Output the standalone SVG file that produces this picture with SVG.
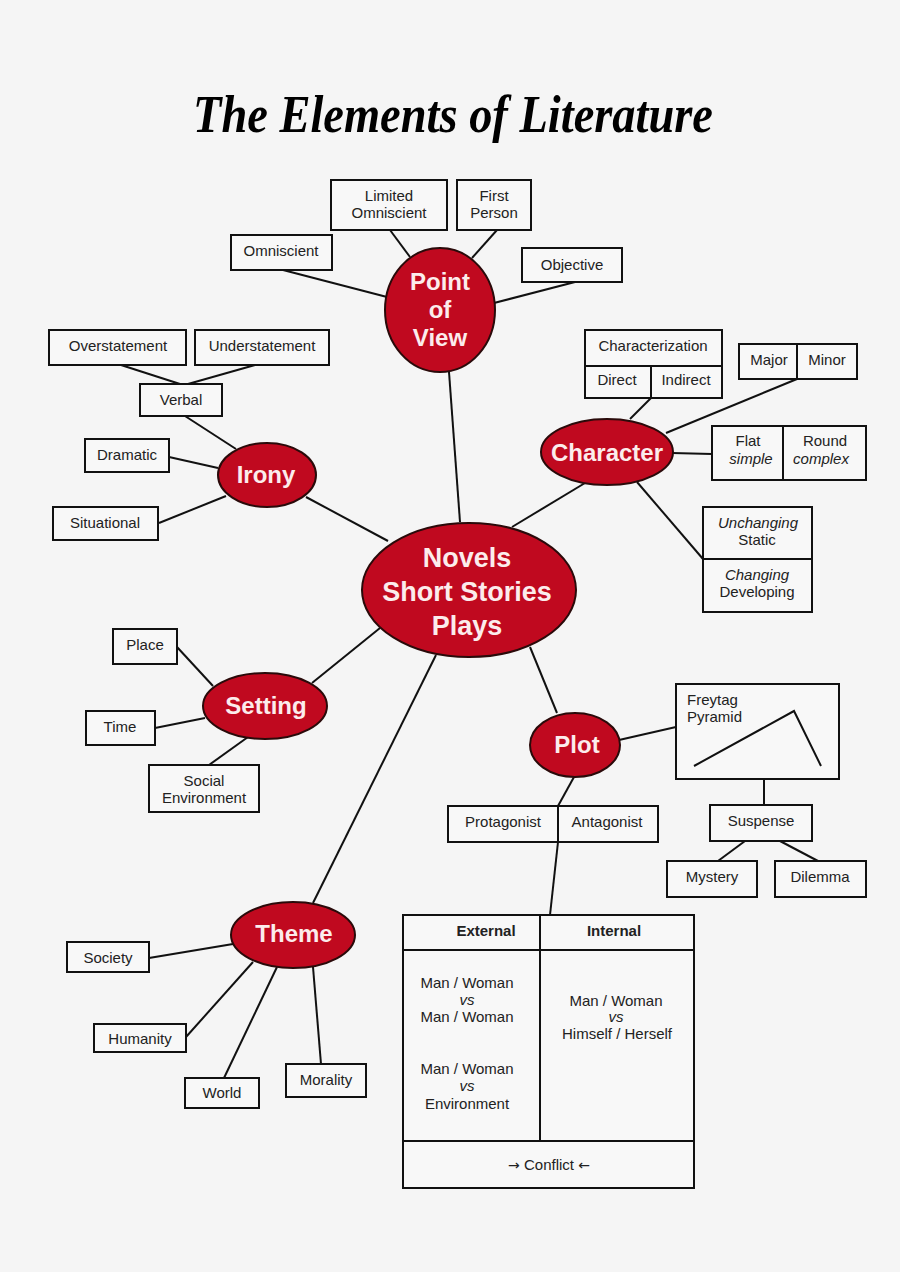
<svg xmlns="http://www.w3.org/2000/svg" width="900" height="1272" viewBox="0 0 900 1272">
<style>
.bg{fill:#f5f5f5}
.box{fill:#f8f8f8;stroke:#111;stroke-width:2}
.div{stroke:#111;stroke-width:2;fill:none}
.ell{fill:#c0091f;stroke:#2a0a0a;stroke-width:2}
.t{font-family:"Liberation Sans",Arial,sans-serif;font-size:15px;fill:#222;text-anchor:middle}
.i{font-style:italic}
.b{font-weight:bold}
.et{font-family:"Liberation Sans",Arial,sans-serif;font-size:24px;font-weight:bold;fill:#fcecec;text-anchor:middle}
.ct{font-size:27px}
.ar{font-family:"DejaVu Sans",sans-serif;font-size:14px}
.conn line,.conn polyline{stroke:#111;stroke-width:2;fill:none}
</style>
<rect class="bg" x="0" y="0" width="900" height="1272"/>
<text x="453" y="132" font-family="Liberation Serif,serif" font-style="italic" font-weight="bold" font-size="52" fill="#000" text-anchor="middle" textLength="520" lengthAdjust="spacingAndGlyphs">The Elements of Literature</text>

<g id="connectors" class="conn">
<line x1="390" y1="230" x2="410" y2="257"/>
<line x1="497" y1="230" x2="472" y2="258"/>
<line x1="283" y1="270" x2="387" y2="297"/>
<line x1="575" y1="282" x2="494" y2="303"/>
<line x1="449" y1="372" x2="460" y2="522"/>
<line x1="121" y1="365" x2="180" y2="384"/>
<line x1="255" y1="365" x2="188" y2="384"/>
<line x1="185" y1="416" x2="236" y2="449"/>
<line x1="169" y1="457" x2="218" y2="468"/>
<line x1="159" y1="523" x2="226" y2="496"/>
<line x1="306" y1="497" x2="388" y2="541"/>
<line x1="651" y1="398" x2="630" y2="419"/>
<line x1="797" y1="379" x2="666" y2="433"/>
<line x1="672" y1="453" x2="712" y2="454"/>
<line x1="637" y1="482" x2="703" y2="559"/>
<line x1="585" y1="483" x2="512" y2="527"/>
<line x1="177" y1="647" x2="213" y2="686"/>
<line x1="155" y1="728" x2="205" y2="718"/>
<line x1="209" y1="765" x2="248" y2="737"/>
<line x1="312" y1="683" x2="380" y2="628"/>
<line x1="530" y1="647" x2="557" y2="713"/>
<line x1="619" y1="740" x2="676" y2="727"/>
<line x1="574" y1="777" x2="558" y2="806"/>
<line x1="558" y1="842" x2="550" y2="915"/>
<line x1="764" y1="779" x2="764" y2="805"/>
<line x1="745" y1="841" x2="718" y2="861"/>
<line x1="780" y1="841" x2="818" y2="861"/>
<line x1="313" y1="903" x2="436" y2="655"/>
<line x1="149" y1="958" x2="233" y2="944"/>
<line x1="186" y1="1037" x2="253" y2="962"/>
<line x1="224" y1="1078" x2="277" y2="967"/>
<line x1="321" y1="1064" x2="313" y2="967"/>
</g>

<g id="center">
<ellipse class="ell" cx="469" cy="590" rx="107" ry="67"/>
<text class="et ct" x="467" y="567">Novels</text>
<text class="et ct" x="467" y="601">Short Stories</text>
<text class="et ct" x="467" y="635">Plays</text>
</g>

<g id="point-of-view">
<ellipse class="ell" cx="440" cy="310" rx="55" ry="62"/>
<text class="et" x="440" y="290">Point</text>
<text class="et" x="440" y="318">of</text>
<text class="et" x="440" y="346">View</text>
</g>
<g id="limited-omniscient"><rect class="box" x="331" y="180" width="116" height="50"/><text class="t" x="389" y="201">Limited</text><text class="t" x="389" y="218">Omniscient</text></g>
<g id="first-person"><rect class="box" x="457" y="180" width="74" height="50"/><text class="t" x="494" y="201">First</text><text class="t" x="494" y="218">Person</text></g>
<g id="omniscient"><rect class="box" x="231" y="235" width="101" height="35"/><text class="t" x="281" y="256">Omniscient</text></g>
<g id="objective"><rect class="box" x="522" y="248" width="100" height="34"/><text class="t" x="572" y="270">Objective</text></g>

<g id="irony">
<ellipse class="ell" cx="267" cy="475" rx="49" ry="32"/>
<text class="et" x="266" y="483">Irony</text>
</g>
<g id="overstatement"><rect class="box" x="49" y="330" width="137" height="35"/><text class="t" x="118" y="351">Overstatement</text></g>
<g id="understatement"><rect class="box" x="195" y="330" width="134" height="35"/><text class="t" x="262" y="351">Understatement</text></g>
<g id="verbal"><rect class="box" x="140" y="384" width="82" height="32"/><text class="t" x="181" y="405">Verbal</text></g>
<g id="dramatic"><rect class="box" x="85" y="439" width="84" height="33"/><text class="t" x="127" y="460">Dramatic</text></g>
<g id="situational"><rect class="box" x="53" y="507" width="105" height="33"/><text class="t" x="105" y="528">Situational</text></g>

<g id="character">
<ellipse class="ell" cx="607" cy="452" rx="66" ry="33"/>
<text class="et" x="607" y="461">Character</text>
</g>
<g id="characterization">
<rect class="box" x="585" y="330" width="137" height="68"/>
<line class="div" x1="585" y1="366" x2="722" y2="366"/>
<line class="div" x1="651" y1="366" x2="651" y2="398"/>
<text class="t" x="653" y="351">Characterization</text>
<text class="t" x="617" y="385">Direct</text>
<text class="t" x="686" y="385">Indirect</text>
</g>
<g id="major-minor">
<rect class="box" x="739" y="344" width="118" height="35"/>
<line class="div" x1="797" y1="344" x2="797" y2="379"/>
<text class="t" x="769" y="365">Major</text>
<text class="t" x="827" y="365">Minor</text>
</g>
<g id="flat-round">
<rect class="box" x="712" y="426" width="154" height="54"/>
<line class="div" x1="783" y1="426" x2="783" y2="480"/>
<text class="t" x="748" y="446">Flat</text>
<text class="t i" x="751" y="464">simple</text>
<text class="t" x="825" y="446">Round</text>
<text class="t i" x="821" y="464">complex</text>
</g>
<g id="static-developing">
<rect class="box" x="703" y="507" width="109" height="105"/>
<line class="div" x1="703" y1="559" x2="812" y2="559"/>
<text class="t i" x="758" y="528">Unchanging</text>
<text class="t" x="757" y="545">Static</text>
<text class="t i" x="757" y="580">Changing</text>
<text class="t" x="757" y="597">Developing</text>
</g>

<g id="setting">
<ellipse class="ell" cx="265" cy="706" rx="62" ry="33"/>
<text class="et" x="266" y="714">Setting</text>
</g>
<g id="place"><rect class="box" x="113" y="629" width="64" height="35"/><text class="t" x="145" y="650">Place</text></g>
<g id="time"><rect class="box" x="86" y="711" width="69" height="34"/><text class="t" x="120" y="732">Time</text></g>
<g id="social-environment"><rect class="box" x="149" y="765" width="110" height="47"/><text class="t" x="204" y="786">Social</text><text class="t" x="204" y="803">Environment</text></g>

<g id="plot">
<ellipse class="ell" cx="575" cy="745" rx="45" ry="32"/>
<text class="et" x="577" y="753">Plot</text>
</g>
<g id="freytag-pyramid">
<rect class="box" x="676" y="684" width="163" height="95"/>
<text class="t" style="text-anchor:start" x="687" y="705">Freytag</text>
<text class="t" style="text-anchor:start" x="687" y="722">Pyramid</text>
<polyline class="div" points="694,766 794,711 821,766"/>
</g>
<g id="suspense"><rect class="box" x="710" y="805" width="102" height="36"/><text class="t" x="761" y="826">Suspense</text></g>
<g id="mystery"><rect class="box" x="667" y="861" width="90" height="36"/><text class="t" x="712" y="882">Mystery</text></g>
<g id="dilemma"><rect class="box" x="775" y="861" width="91" height="36"/><text class="t" x="820" y="882">Dilemma</text></g>
<g id="protagonist-antagonist">
<rect class="box" x="448" y="806" width="210" height="36"/>
<line class="div" x1="558" y1="806" x2="558" y2="842"/>
<text class="t" x="503" y="827">Protagonist</text>
<text class="t" x="607" y="827">Antagonist</text>
</g>
<g id="conflict">
<rect class="box" x="403" y="915" width="291" height="273"/>
<line class="div" x1="403" y1="950" x2="694" y2="950"/>
<line class="div" x1="540" y1="915" x2="540" y2="1141"/>
<line class="div" x1="403" y1="1141" x2="694" y2="1141"/>
<text class="t b" x="486" y="936">External</text>
<text class="t b" x="614" y="936">Internal</text>
<text class="t" x="467" y="988">Man / Woman</text>
<text class="t i" x="467" y="1005">vs</text>
<text class="t" x="467" y="1022">Man / Woman</text>
<text class="t" x="467" y="1074">Man / Woman</text>
<text class="t i" x="467" y="1091">vs</text>
<text class="t" x="467" y="1109">Environment</text>
<text class="t" x="616" y="1006">Man / Woman</text>
<text class="t i" x="616" y="1022">vs</text>
<text class="t" x="617" y="1039">Himself / Herself</text>
<text class="t" x="549" y="1170"><tspan class="ar">→</tspan> Conflict <tspan class="ar">←</tspan></text>
</g>

<g id="theme">
<ellipse class="ell" cx="293" cy="935" rx="62" ry="33"/>
<text class="et" x="294" y="942">Theme</text>
</g>
<g id="society"><rect class="box" x="67" y="942" width="82" height="30"/><text class="t" x="108" y="963">Society</text></g>
<g id="humanity"><rect class="box" x="94" y="1024" width="92" height="28"/><text class="t" x="140" y="1044">Humanity</text></g>
<g id="world"><rect class="box" x="185" y="1078" width="74" height="30"/><text class="t" x="222" y="1098">World</text></g>
<g id="morality"><rect class="box" x="286" y="1064" width="80" height="33"/><text class="t" x="326" y="1085">Morality</text></g>
</svg>
